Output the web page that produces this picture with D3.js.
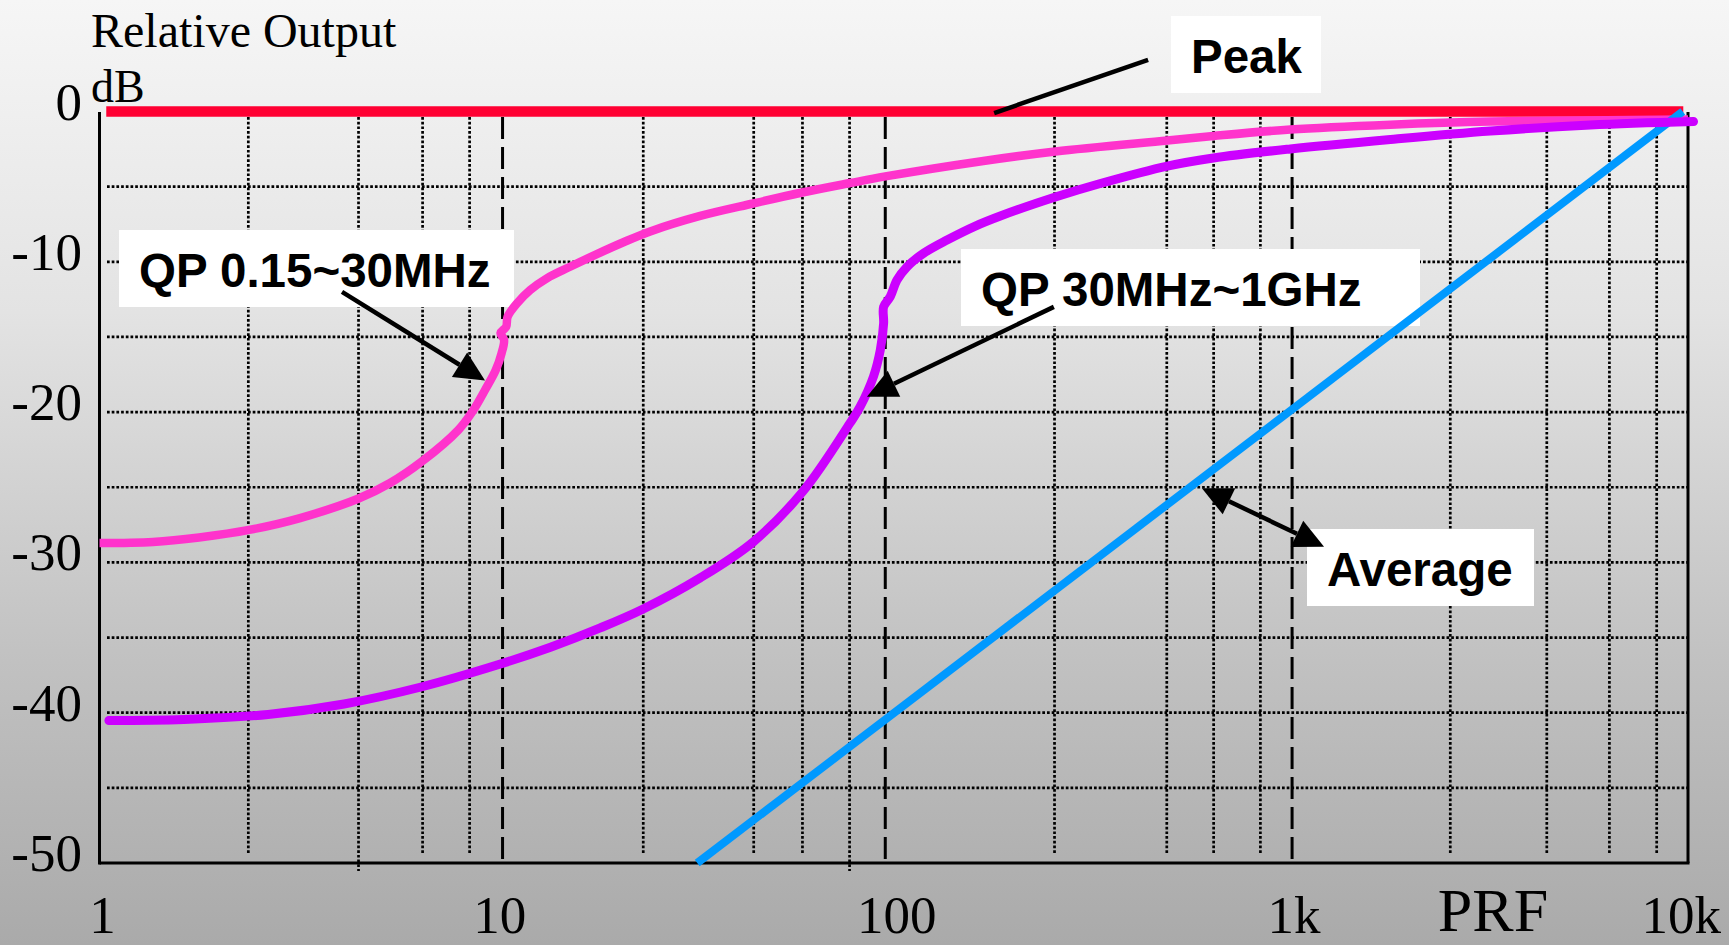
<!DOCTYPE html>
<html><head><meta charset="utf-8">
<script src="https://cdn.jsdelivr.net/npm/d3@7"></script>
<style>html,body{margin:0;padding:0;overflow:hidden;background:#fff}</style>
</head><body>
<svg id="chart" width="1729" height="945"></svg>
<script>
// ---------- data ----------
const qpLowFreq = [1.0, 1.364, 1.781, 2.381, 3.199, 4.494, 5.392, 6.511, 8.01, 8.69, 9.35, 9.95, 10.29, 10.44, 10.23, 10.57, 10.66, 11.26, 12.15, 13.38, 15.31, 17.88, 20.86, 24.36, 32.55, 44.27, 58.83, 77.7, 95.2, 168.1, 255.2, 488.6, 638, 997, 1781, 3181, 10000];
const qpLowDb   = [-28.71, -28.64, -28.34, -27.84, -27.05, -25.75, -24.72, -23.25, -21.19, -19.97, -18.53, -17.2, -16.09, -15.2, -14.74, -14.32, -13.65, -12.76, -11.88, -11.1, -10.33, -9.49, -8.7, -7.98, -6.95, -6.12, -5.39, -4.76, -4.32, -3.29, -2.66, -1.93, -1.63, -1.2, -0.88, -0.67, -0.53];

const qpHighFreq = [1.056, 1.632, 2.657, 4.13, 6.453, 10.03, 13.72, 18.23, 23.39, 32.55, 44.27, 59.17, 77.5, 82.3, 88.9, 92.5, 94.3, 94.3, 98.0, 101.9, 108, 118.9, 136.2, 160.5, 185.5, 255.2, 331.3, 488.6, 638, 997, 1781, 3181, 5681, 10325];
const qpHighDb   = [-40.52, -40.45, -40.12, -39.42, -38.29, -36.83, -35.63, -34.36, -33.1, -31.03, -28.64, -25.25, -20.75, -19.64, -17.64, -15.87, -14.09, -12.99, -12.32, -11.21, -10.33, -9.43, -8.55, -7.62, -6.95, -5.69, -4.79, -3.63, -3.09, -2.49, -1.86, -1.3, -0.9, -0.67];

const avgFreq = [32, 9700];
const avgDb   = [-50, 0];

const peakFreq = [1.04, 9730];
const peakDb   = [0, 0];

const xTickValues = [1, 10, 100, 1000, 10000];
const xTickLabels = ["1", "10", "100", "1k", "10k"];
const yTickValues = [0, -10, -20, -30, -40, -50];
const yTickLabels = ["0", "-10", "-20", "-30", "-40", "-50"];

const hGridDb = [-5, -10, -15, -20, -25, -30, -35, -40, -45];
const vGridFreq = [2.37, 4.49, 6.51, 8.55, 23.4, 44.4, 58.9, 77.4, 254, 487, 639, 838, 2520, 4410, 6340, 8340];
const vGridLongFreq = [4.49, 77.4];
const decadeFreq = [10.35, 95.2, 1007];

const annotationTexts = ["Peak", "QP 0.15~30MHz", "QP 30MHz~1GHz", "Average"];
// arrow anchors in data units [freq, dB]
const peakLeader = [[179, -0.1], [437, 3.43]];
const qpLowArrow = [[4.08, -12.0], [9.35, -17.9]];
const qpHighArrow = [[253, -13.0], [85.6, -18.98]];
const avgArrow = [[597, -25.07], [1212, -28.96]];

// ---------- drawing ----------
const W = 1729, H = 945;
const svg = d3.select("#chart");
const defs = svg.append("defs");
const grad = defs.append("linearGradient").attr("id", "bg").attr("x1", 0).attr("y1", 0).attr("x2", 0).attr("y2", 1);
[[0, "#f6f6f6"], [0.33, "#e3e3e3"], [0.7, "#c1c1c1"], [1, "#aaaaaa"]].forEach(s =>
  grad.append("stop").attr("offset", s[0]).attr("stop-color", s[1]));
svg.append("rect").attr("width", W).attr("height", H).attr("fill", "url(#bg)");

const x = d3.scaleLog().domain([1, 10000]).range([99.5, 1688]);
const y = d3.scaleLinear().domain([-50, 0]).range([863, 111.5]);

const gridTop = 117, gridBottom = 855;

// horizontal dotted gridlines
svg.append("g").selectAll("line").data(hGridDb).join("line")
  .attr("x1", 107).attr("x2", x(10000))
  .attr("y1", d => y(d)).attr("y2", d => y(d))
  .attr("stroke", "#000").attr("stroke-width", 2.7).attr("stroke-dasharray", "2.7,2");

// vertical dotted gridlines
svg.append("g").selectAll("line").data(vGridFreq).join("line")
  .attr("x1", d => x(d)).attr("x2", d => x(d))
  .attr("y1", gridTop).attr("y2", d => vGridLongFreq.includes(d) ? 871 : gridBottom)
  .attr("stroke", "#000").attr("stroke-width", 2.7).attr("stroke-dasharray", "2.7,2");

// dashed decade lines
svg.append("g").selectAll("line").data(decadeFreq).join("line")
  .attr("x1", d => x(d)).attr("x2", d => x(d))
  .attr("y1", gridTop).attr("y2", y(-50))
  .attr("stroke", "#000").attr("stroke-width", 3).attr("stroke-dasharray", "22,8");

// axes frame
const frame = svg.append("g").attr("stroke", "#000").attr("stroke-width", 3);
frame.append("line").attr("x1", x(1)).attr("x2", x(1)).attr("y1", 112).attr("y2", y(-50) + 1.5);
frame.append("line").attr("x1", x(1)).attr("x2", x(10000) + 1.5).attr("y1", y(-50)).attr("y2", y(-50));
frame.append("line").attr("x1", x(10000)).attr("x2", x(10000)).attr("y1", 112).attr("y2", y(-50));

// annotation boxes (layout in px)
const boxes = [
  {t: annotationTexts[0], x: 1171, y: 16, w: 150, h: 77},
  {t: annotationTexts[1], x: 119, y: 230, w: 395, h: 77},
  {t: annotationTexts[2], x: 961, y: 249, w: 459, h: 77},
  {t: annotationTexts[3], x: 1307, y: 529, w: 227, h: 77}
];
svg.append("g").selectAll("rect").data(boxes).join("rect")
  .attr("x", d => d.x).attr("y", d => d.y).attr("width", d => d.w).attr("height", d => d.h)
  .attr("fill", "#fff");

// curves
const mk = (fs, ds) => fs.map((f, i) => [f, ds[i]]);
const lineGen = d3.line().x(d => x(d[0])).y(d => y(d[1])).curve(d3.curveCatmullRom.alpha(0.5));
const straight = d3.line().x(d => x(d[0])).y(d => y(d[1]));

svg.append("path").datum(mk(peakFreq, peakDb)).attr("d", straight)
  .attr("fill", "none").attr("stroke", "#ff0033").attr("stroke-width", 10.5);
svg.append("path").datum(mk(qpLowFreq, qpLowDb)).attr("d", lineGen)
  .attr("fill", "none").attr("stroke", "#ff33cc").attr("stroke-width", 8.5).attr("stroke-linejoin", "round");
svg.append("path").datum(mk(avgFreq, avgDb)).attr("d", straight)
  .attr("fill", "none").attr("stroke", "#0099ff").attr("stroke-width", 8);
svg.append("path").datum(mk(qpHighFreq, qpHighDb)).attr("d", lineGen)
  .attr("fill", "none").attr("stroke", "#cc00ff").attr("stroke-width", 9)
  .attr("stroke-linecap", "round").attr("stroke-linejoin", "round");

// arrows
const arrG = svg.append("g");
function head(tip, from, L, Wd) {
  const dx = tip[0] - from[0], dy = tip[1] - from[1], len = Math.hypot(dx, dy);
  const ux = dx / len, uy = dy / len;
  const bx = tip[0] - ux * L, by = tip[1] - uy * L;
  const nx = -uy * Wd / 2, ny = ux * Wd / 2;
  arrG.append("path").attr("d", `M${tip[0]},${tip[1]}L${bx + nx},${by + ny}L${bx - nx},${by - ny}Z`).attr("fill", "#000");
  return [bx, by];
}
function px(p) { return [x(p[0]), y(p[1])]; }
function arrow(a, both) {
  const s = px(a[0]), t = px(a[1]);
  const tb = head(t, s, 30, 29);
  let sb = s;
  if (both) sb = head(s, t, 30, 29);
  arrG.append("line").attr("x1", sb[0]).attr("y1", sb[1]).attr("x2", tb[0]).attr("y2", tb[1])
    .attr("stroke", "#000").attr("stroke-width", 4.5);
}
{
  const s = px(peakLeader[0]), t = px(peakLeader[1]);
  arrG.append("line").attr("x1", s[0]).attr("y1", s[1]).attr("x2", t[0]).attr("y2", t[1])
    .attr("stroke", "#000").attr("stroke-width", 4.5);
}
arrow(qpLowArrow, false);
arrow(qpHighArrow, false);
arrow(avgArrow, true);

// annotation texts
svg.append("g").selectAll("text").data(boxes).join("text")
  .attr("x", d => d.x + 20).attr("y", d => d.y + 56.5)
  .attr("font-family", "'Liberation Sans', Arial, sans-serif").attr("font-weight", "bold")
  .attr("font-size", 47.5).attr("fill", "#000").text(d => d.t);

// tick labels
const serif = "'Liberation Serif', 'Times New Roman', serif";
svg.append("g").selectAll("text").data(yTickValues).join("text")
  .attr("x", 82).attr("y", d => y(d) + 8).attr("text-anchor", "end")
  .attr("font-family", serif).attr("font-size", 53).attr("fill", "#000")
  .text((d, i) => yTickLabels[i]);
svg.append("g").selectAll("text").data(xTickValues).join("text")
  .attr("y", 933).attr("text-anchor", "middle")
  .attr("font-family", serif).attr("font-size", 53).attr("fill", "#000")
  .text((d, i) => xTickLabels[i])
  .each(function(d) {
    const w = this.getComputedTextLength();
    const cx = Math.min(x(d) + 3, W - 8 - w / 2);
    d3.select(this).attr("x", cx);
  });

// axis titles
svg.append("text").attr("x", 91).attr("y", 47).attr("font-family", serif).attr("font-size", 48).text("Relative Output");
svg.append("text").attr("x", 91).attr("y", 102).attr("font-family", serif).attr("font-size", 46).text("dB");
svg.append("text").attr("x", 1493).attr("y", 931).attr("text-anchor", "middle").attr("font-family", serif).attr("font-size", 62).text("PRF");
</script>
</body></html>
